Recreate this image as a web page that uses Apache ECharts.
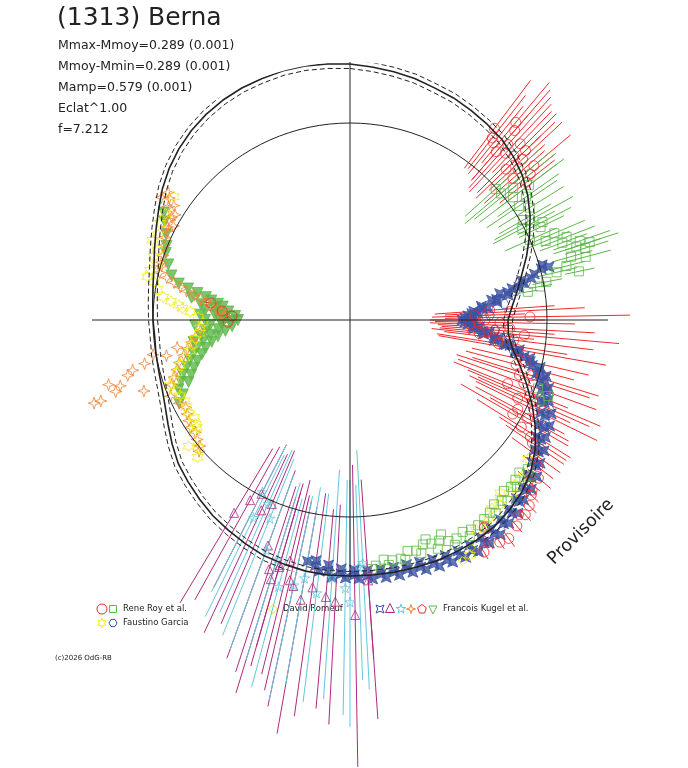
<!DOCTYPE html>
<html>
<head>
<meta charset="utf-8">
<title>(1313) Berna</title>
<script src="https://cdn.jsdelivr.net/npm/echarts@6.0.0/dist/echarts.min.js"></script>
<style>
  html, body { margin: 0; padding: 0; background: #fff; }
  #chart { width: 688px; height: 768px; }
</style>
</head>
<body>
<div id="chart"></div>
<script>
// phase angle in degrees (clockwise from top), radius in plot units (inner circle = 197)
const titleText = '(1313) Berna';
const statsLines = ['Mmax-Mmoy=0.289 (0.001)', 'Mmoy-Mmin=0.289 (0.001)', 'Mamp=0.579 (0.001)', 'Eclat^1.00', 'f=7.212'];
const observers = ['Rene Roy et al.', 'Faustino Garcia', 'David Romeuf', 'Francois Kugel et al.'];

const innerCircleRadius = 197;
const fitAngles = [0, 5, 10, 15, 20, 25, 30, 35, 40, 45, 50, 55, 60, 65, 70, 75, 80, 85, 90, 95, 100, 105, 110, 115,
  120, 125, 130, 135, 140, 145, 150, 155, 160, 165, 170, 175, 180, 185, 190, 195, 200, 205, 210, 215, 220, 225,
  230, 235, 240, 245, 250, 255, 260, 265, 270, 275, 280, 285, 290, 295, 300, 305, 310, 315, 320, 325, 330, 335,
  340, 345, 350, 355, 360];
const fitRadius = [256, 254, 252, 250, 247, 245, 242, 239, 236, 231, 225, 217, 208, 198, 188, 178, 170, 163, 158, 159,
  165, 176, 188, 201, 214, 226, 236, 243, 248, 252, 254, 255, 256, 256, 256, 256, 256, 256, 255, 253, 251, 247,
  243, 239, 234, 229, 224, 217, 210, 204, 200, 198, 197, 196, 197, 198, 200, 203, 208, 214, 221, 229, 236, 242,
  247, 251, 254, 256, 257, 258, 258, 257, 256];
const fitSigma = 4.5;

// [angle, radius, barLow, barHigh]
const royCircles = [
  [37, 240, 190, 300], [38, 231, 192, 285], [39, 228, 188, 275], [40, 258, 205, 310], [41, 251, 186, 305],
  [41, 223, 185, 270], [42, 236, 178, 300], [43, 228, 175, 295], [44, 245, 205, 290], [45, 232, 180, 292],
  [46, 217, 175, 265], [46, 244, 205, 285], [47, 236, 190, 290], [48, 226, 192, 262], [49, 216, 178, 258],
  [50, 240, 198, 288], [51, 232, 202, 262], [52, 224, 190, 260],
  [86, 140, 85, 205], [87, 160, 95, 235], [88, 125, 82, 175], [89, 180, 95, 280], [90, 135, 80, 195],
  [91, 150, 85, 225], [92, 120, 80, 162], [93, 160, 88, 245], [94, 145, 92, 205], [95, 175, 90, 270],
  [96, 130, 82, 185], [97, 165, 95, 245], [99, 150, 88, 220], [100, 170, 90, 260],
  [103, 180, 125, 245], [105, 172, 120, 232], [107, 190, 128, 260], [108, 178, 112, 252], [110, 185, 115, 262],
  [112, 170, 112, 235], [113, 195, 128, 272], [114, 200, 140, 262], [115, 185, 132, 243], [116, 205, 140, 275],
  [118, 190, 142, 243], [119, 203, 160, 250], [120, 188, 128, 252], [122, 202, 150, 260], [123, 215, 178, 258],
  [124, 220, 188, 258], [126, 228, 200, 260], [128, 238, 220, 258], [130, 246, 232, 262], [132, 240, 226, 256],
  [134, 252, 244, 262], [136, 258, 250, 268], [138, 262, 255, 270], [141, 265, 258, 273], [144, 270, 262, 280],
  [146, 268, 260, 276], [147, 247, 240, 255], [148, 262, 255, 270], [150, 268, 261, 276],
  [269, 122, 115, 130], [272, 118, 108, 128], [274, 128, 115, 142], [277, 140, 130, 152]
];
const roySquares = [
  [48, 196, 155, 255], [50, 197, 150, 262], [51, 210, 160, 265], [53, 204, 162, 258], [53, 224, 185, 268],
  [55, 215, 180, 255], [56, 204, 165, 250], [58, 212, 175, 252], [60, 200, 172, 232], [61, 206, 165, 255],
  [62, 195, 162, 232], [63, 216, 188, 248], [64, 212, 188, 238], [66, 197, 170, 226], [67, 222, 194, 255],
  [68, 211, 188, 237], [69, 232, 205, 262], [70, 226, 202, 252], [71, 243, 215, 275], [72, 238, 214, 264],
  [72, 252, 226, 282], [73, 246, 225, 270], [74, 230, 210, 252], [75, 244, 220, 270], [76, 223, 205, 242],
  [77, 212, 193, 233], [78, 234, 220, 250], [79, 200, 186, 216], [80, 193, 182, 205], [81, 180, 171, 190],
  [110, 200], [111, 212], [113, 206],
  [130, 232], [132, 228], [134, 230], [136, 232], [138, 230], [140, 236], [142, 234], [144, 238], [146, 240],
  [148, 242], [150, 242], [152, 240], [154, 243], [156, 242], [158, 238], [160, 238], [162, 236], [164, 240],
  [166, 238], [168, 244], [170, 244], [172, 242], [174, 247],
  [131, 238], [135, 236], [139, 240], [143, 242], [147, 246], [151, 247], [155, 248], [157, 233], [159, 245],
  [161, 232], [163, 244], [167, 246], [171, 248], [175, 250]
];
const garciaStars = [
  [305, 215], [300, 213], [297, 213], [294, 210], [292, 213], [290, 205], [288, 206], [286, 201], [284, 206],
  [282, 207], [281, 200], [279, 195], [277, 188], [276, 180], [275, 172], [274, 168], [273, 160], [271, 152],
  [269, 147], [267, 150], [265, 151], [263, 156], [261, 160], [259, 163], [257, 170], [255, 176], [253, 181],
  [251, 186], [250, 192], [248, 188], [246, 186], [244, 184], [242, 185], [240, 186], [238, 184], [236, 186],
  [235, 187], [234, 192], [232, 205], [230, 198], [228, 205],
  [128, 226], [133, 232], [135, 233], [137, 236], [139, 229], [141, 238], [143, 236], [145, 242], [149, 245], [153, 264]
];
const garciaHexagons = [
  [78, 180], [80, 168], [82, 150], [84, 140], [84, 155], [86, 130], [88, 125], [88, 140], [90, 120], [92, 126],
  [94, 132], [94, 145], [96, 142], [97, 160], [98, 155], [100, 165], [103, 185], [106, 200], [110, 210],
  [114, 218], [118, 222], [124, 230], [128, 236]
];
const romeufDiamonds = [[131, 232], [136, 240], [140, 232], [146, 244], [152, 258], [155, 266]];
const kugelAstroids = [
  [74, 200], [76, 190], [77, 176], [79, 165], [80, 152], [82, 143], [84, 132], [86, 124], [88, 118], [90, 112],
  [92, 118], [94, 124], [96, 134], [98, 146], [99, 156], [101, 168], [102, 178], [104, 188], [106, 194], [108, 200],
  [110, 204], [113, 207], [116, 212], [119, 216], [122, 220], [125, 226], [128, 231], [131, 235], [134, 240],
  [137, 244], [140, 247], [143, 250], [146, 252], [149, 254], [152, 255], [155, 255], [158, 254], [161, 253],
  [164, 252], [167, 251], [170, 251], [173, 251], [176, 251], [179, 250], [182, 249], [185, 246], [188, 243],
  [75, 206], [77, 186], [79, 172], [81, 160], [83, 148], [85, 138], [87, 128], [89, 122], [91, 122], [93, 130],
  [95, 140], [97, 150], [99, 162], [100, 172], [102, 184], [104, 196], [106, 204], [109, 210], [112, 214],
  [115, 222], [118, 226], [121, 228], [124, 234], [127, 238], [130, 244], [133, 248], [136, 250], [139, 256],
  [142, 258], [145, 262], [148, 263], [151, 265], [154, 264], [157, 263], [160, 262], [163, 261], [166, 260],
  [169, 260], [172, 260], [175, 260], [178, 259], [181, 258], [184, 258], [187, 253],
  [75, 198], [78, 178], [80, 160], [82, 148], [85, 133], [87, 122], [89, 115], [91, 115], [93, 123], [95, 133],
  [97, 145], [99, 158], [101, 172], [103, 185], [105, 196], [107, 203], [110, 208], [113, 211], [116, 217],
  [119, 222], [122, 225], [125, 230], [128, 236], [131, 240], [134, 245], [137, 248], [140, 252], [143, 255],
  [146, 258], [149, 260], [152, 261], [155, 260], [158, 259], [161, 258], [164, 257], [167, 256], [170, 256],
  [173, 256], [176, 256], [179, 255], [182, 254], [185, 252], [188, 248], [190, 245]
];
const kugelTriangles = [
  [211, 225, 150, 330], [209, 206, 145, 320], [207, 195, 140, 300], [205, 210, 148, 345], [203, 200, 142, 330],
  [200, 240, 160, 360], [198, 262, 175, 370], [197, 271, 185, 390], [196, 257, 170, 360], [196, 255, 180, 340],
  [194, 248, 165, 365], [193, 267, 180, 380], [192, 272, 185, 395], [190, 284, 190, 420], [188, 270, 175, 400],
  [185, 278, 190, 390], [183, 282, 185, 405], [179, 295, 145, 447], [176, 251, 160, 400], [176, 261, 240, 340]
];
const kugelStars = [
  [207, 193, 140, 305], [206, 220, 150, 330], [204, 201, 142, 320], [202, 214, 150, 340], [200, 245, 165, 350],
  [197, 251, 170, 355], [195, 276, 185, 380], [192, 271, 180, 390], [190, 262, 170, 370], [187, 275, 175, 385],
  [184, 258, 150, 380], [181, 268, 160, 395], [180, 282, 160, 407], [178, 247, 165, 360], [177, 243, 130, 370]
];
const kugelSparkles = [
  [305, 222], [304, 218], [303, 210], [303, 225], [302, 214], [301, 204], [299, 207], [298, 200], [296, 203],
  [300, 206], [297, 205], [294, 203], [292, 200], [289, 198], [287, 197],
  [286, 196], [284, 196], [283, 188], [282, 180], [281, 173], [280, 166], [279, 158], [278, 151], [277, 145],
  [276, 140], [275, 134], [274, 130], [273, 130], [272, 126],
  [266, 150], [264, 155], [262, 160], [260, 165], [258, 170], [256, 176], [254, 180], [252, 185], [250, 190],
  [247, 195], [244, 190], [242, 186], [240, 188], [238, 190], [236, 192], [234, 191], [232, 194], [230, 196], [229, 200],
  [257, 223], [256, 229], [251, 218], [260, 200], [259, 187], [261, 175], [252, 262], [254, 239], [252, 269],
  [255, 250], [253, 245], [258, 210]
];
const kugelPentagons = [[91, 128], [95, 138], [98, 150], [133, 250], [139, 258]];
const kugelDownTriangles = [
  [300, 215], [298, 210], [295, 203], [292, 198], [290, 196], [287, 190], [284, 184], [282, 175], [281, 165],
  [280, 155], [279, 146], [278, 140], [277, 133], [276, 128], [275, 136], [274, 122], [273, 130], [272, 115],
  [271, 125], [270, 112], [269, 120], [268, 128], [267, 118], [266, 132], [265, 125], [264, 140], [263, 133],
  [262, 148], [261, 140], [260, 155], [259, 147], [258, 160], [257, 152], [256, 165], [255, 158], [254, 170],
  [253, 163], [252, 176], [251, 168], [250, 180], [249, 173], [248, 185], [246, 183], [244, 190],
  [272, 135], [270, 130], [268, 140], [274, 145], [276, 150], [266, 145], [264, 150], [278, 160], [262, 158],
  [270, 145], [272, 150], [268, 155]
];

const RED = '#ee2a2c', GREEN = '#5cb848', BLUE = '#3c52a2', YELLOW = '#f0ec00',
  ORANGE = '#f08232', MAGENTA = '#b2287e', CYAN = '#62c8dc', INK = '#222';

// symbol outlines in a 100x100 box
const SHAPES = {
  square: [[0, 0], [100, 0], [100, 100], [0, 100]],
  diamond: [[50, 0], [100, 50], [50, 100], [0, 50]],
  triangle: [[50, 0], [100, 100], [0, 100]],
  downTriangle: [[0, 0], [100, 0], [50, 100]],
  star: [[50, 0], [61, 35], [98, 35], [68, 57], [79, 91], [50, 70], [21, 91], [32, 57], [2, 35], [39, 35]],
  sparkle: [[50, 0], [62, 38], [100, 50], [62, 62], [50, 100], [38, 62], [0, 50], [38, 38]],
  astroid: [[0, 0], [50, 22], [100, 0], [78, 50], [100, 100], [50, 78], [0, 100], [22, 50]],
  hexagon: [[25, 5], [75, 5], [100, 50], [75, 95], [25, 95], [0, 50]],
  pentagon: [[50, 0], [98, 35], [79, 95], [21, 95], [2, 35]],
  davidStar: [[50, 0], [64, 25], [93, 25], [79, 50], [93, 75], [64, 75], [50, 100], [36, 75], [7, 75], [21, 50], [7, 25], [36, 25]]
};
function symbolOf(name) {
  if (name === 'circle') return 'circle';
  return 'path://M' + SHAPES[name].map(p => p.join(',')).join(' L') + ' Z';
}

function scatter(pts, sym, size, color, filled) {
  return {
    type: 'scatter', coordinateSystem: 'polar', clip: false, silent: true, z: 3,
    symbol: symbolOf(sym), symbolSize: size,
    data: pts.map(p => [p[1], p[0]]),
    itemStyle: { color: filled ? color : 'rgba(0,0,0,0)', borderColor: color, borderWidth: 1 }
  };
}

function errorBars(pts, color) {
  return {
    type: 'custom', coordinateSystem: 'polar', silent: true, z: 2,
    data: pts.filter(p => p.length > 2).map(p => [p[1], p[0], p[2], p[3]]),
    renderItem: function (params, api) {
      const a = api.value(1);
      const p1 = api.coord([api.value(2), a]);
      const p2 = api.coord([api.value(3), a]);
      return {
        type: 'line',
        shape: { x1: p1[0], y1: p1[1], x2: p2[0], y2: p2[1] },
        style: { stroke: color, lineWidth: 1 }
      };
    }
  };
}

function curve(radii, angles, style, z) {
  return {
    type: 'line', coordinateSystem: 'polar', clip: false, silent: true, z: z,
    smooth: false, symbol: 'none', data: angles.map((a, i) => [radii[i], a]),
    lineStyle: style
  };
}

const circleAngles = [];
for (let a = 0; a <= 360; a += 3) circleAngles.push(a);

function legendSymbol(sym, cx, cy, size, color) {
  const style = { fill: 'none', stroke: color, lineWidth: 1 };
  if (sym === 'circle') {
    return { type: 'circle', silent: true, shape: { cx: cx, cy: cy, r: size / 2 }, style: style };
  }
  return {
    type: 'polygon', silent: true, style: style,
    shape: { points: SHAPES[sym].map(p => [cx - size / 2 + p[0] * size / 100, cy - size / 2 + p[1] * size / 100]) }
  };
}
function label(text, x, y, font) {
  return {
    type: 'text', x: x, y: y, silent: true,
    style: { text: text, font: font, fill: INK, align: 'left', verticalAlign: 'middle' }
  };
}

const graphics = [label(titleText, 57, 18, '25px "DejaVu Sans"')];
statsLines.forEach((t, i) => graphics.push(label(t, 58, 46 + 21 * i, '12.5px "DejaVu Sans"')));
graphics.push(
  legendSymbol('circle', 102, 609, 10, RED),
  legendSymbol('square', 113, 609, 7, GREEN),
  label(observers[0], 123, 609, '8.5px "DejaVu Sans"'),
  legendSymbol('davidStar', 102, 623, 9, YELLOW),
  legendSymbol('hexagon', 113, 623, 8, BLUE),
  label(observers[1], 123, 623, '8.5px "DejaVu Sans"'),
  legendSymbol('diamond', 273, 609, 9, YELLOW),
  label(observers[2], 283, 609, '8.5px "DejaVu Sans"'),
  legendSymbol('astroid', 380, 609, 8, BLUE),
  legendSymbol('triangle', 390, 608, 9, MAGENTA),
  legendSymbol('star', 401, 609, 10, CYAN),
  legendSymbol('sparkle', 411, 609, 9, ORANGE),
  legendSymbol('pentagon', 422, 609, 9, RED),
  legendSymbol('downTriangle', 433, 610, 8, GREEN),
  label(observers[3], 443, 609, '8.5px "DejaVu Sans"'),
  label('(c)2026 OdG-RB', 55, 658, '7px "DejaVu Sans"'),
  {
    type: 'text', x: 581, y: 532, rotation: Math.PI / 4, silent: true,
    style: { text: 'Provisoire', font: '17.5px "DejaVu Sans"', fill: INK, align: 'center', verticalAlign: 'middle' }
  }
);

const chart = echarts.init(document.getElementById('chart'));
chart.setOption({
  animation: false,
  backgroundColor: '#fff',
  polar: { center: [350, 320], radius: 258 },
  angleAxis: {
    type: 'value', min: 0, max: 360, interval: 90, startAngle: 90, clockwise: true, z: 10,
    axisLine: { show: false }, axisTick: { show: false }, axisLabel: { show: false },
    splitLine: { show: true, lineStyle: { color: INK, width: 1 } }
  },
  radiusAxis: {
    type: 'value', min: 0, max: 258,
    axisLine: { show: false }, axisTick: { show: false }, axisLabel: { show: false },
    splitLine: { show: false }
  },
  series: [
    curve(circleAngles.map(() => innerCircleRadius), circleAngles, { color: INK, width: 1 }, 6),
    errorBars(royCircles, RED),
    errorBars(roySquares, GREEN),
    errorBars(kugelTriangles, MAGENTA),
    errorBars(kugelStars, CYAN),
    scatter(kugelAstroids, 'astroid', 10, BLUE, true),
    scatter(garciaHexagons, 'hexagon', 9, BLUE, false),
    scatter(kugelDownTriangles, 'downTriangle', 11, GREEN, true),
    scatter(kugelSparkles, 'sparkle', 12, ORANGE, false),
    scatter(garciaStars, 'davidStar', 11, YELLOW, false),
    scatter(romeufDiamonds, 'diamond', 9, YELLOW, false),
    scatter(roySquares, 'square', 9, GREEN, false),
    scatter(royCircles, 'circle', 10, RED, false),
    scatter(kugelPentagons, 'pentagon', 9, RED, false),
    scatter(kugelTriangles, 'triangle', 9, MAGENTA, false),
    scatter(kugelStars, 'star', 10, CYAN, false),
    curve(fitRadius.map(r => r + fitSigma), fitAngles, { color: INK, width: 1, type: [5, 3] }, 7),
    curve(fitRadius.map(r => r - fitSigma), fitAngles, { color: INK, width: 1, type: [5, 3] }, 7),
    curve(fitRadius, fitAngles, { color: INK, width: 1.6 }, 8)
  ],
  graphic: graphics
});
</script>
</body>
</html>
